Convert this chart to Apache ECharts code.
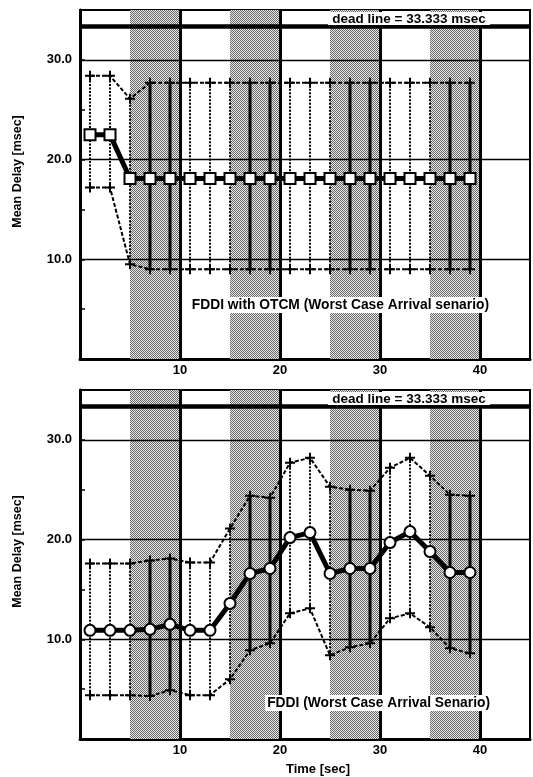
<!DOCTYPE html>
<html>
<head>
<meta charset="utf-8">
<script src="https://cdn.jsdelivr.net/npm/echarts@6/dist/echarts.min.js"></script>
<style>
html,body{margin:0;padding:0;background:#fff;}
#chart{width:533px;height:777px;}
</style>
</head>
<body>
<div id="chart"></div>
<script>
// ---- data ----
const times = [1,3,5,7,9,11,13,15,17,19,21,23,25,27,29,31,33,35,37,39];
const otcmMean  = [22.5,22.5,18.1,18.1,18.1,18.1,18.1,18.1,18.1,18.1,18.1,18.1,18.1,18.1,18.1,18.1,18.1,18.1,18.1,18.1];
const otcmUpper = [28.4,28.4,26.1,27.7,27.7,27.7,27.7,27.7,27.7,27.7,27.7,27.7,27.7,27.7,27.7,27.7,27.7,27.7,27.7,27.7];
const otcmLower = [17.2,17.2,9.5,9.0,9.0,9.0,9.0,9.0,9.0,9.0,9.0,9.0,9.0,9.0,9.0,9.0,9.0,9.0,9.0,9.0];
const fddiMean  = [10.9,10.9,10.9,11.0,11.5,10.9,10.9,13.6,16.6,17.1,20.2,20.7,16.6,17.1,17.1,19.7,20.8,18.8,16.7,16.7];
const fddiUpper = [17.6,17.6,17.6,17.9,18.1,17.7,17.7,21.1,24.4,24.2,27.7,28.2,25.3,25.0,24.9,27.2,28.2,26.4,24.5,24.4];
const fddiLower = [4.4,4.4,4.4,4.3,4.9,4.4,4.4,6.0,8.9,9.6,12.6,13.1,8.4,9.2,9.6,12.1,12.6,11.2,9.1,8.6];
const bands = [[5,10],[15,20],[25,30],[35,40]];
const deadline = 33.333;
const yGridValues = [10,20,30];
const xGridValues = [10,20,30,40];
const yTickLabels = {10:'10.0',20:'20.0',30:'30.0'};
const xTickLabels = {10:'10',20:'20',30:'30',40:'40'};

// ---- halftone pattern ----
const pc = document.createElement('canvas');
pc.width = 2; pc.height = 2;
const pctx = pc.getContext('2d');
pctx.fillStyle = '#e6e6e6'; pctx.fillRect(0,0,2,2);
pctx.fillStyle = '#6a6a6a'; pctx.fillRect(0,0,1,1); pctx.fillRect(1,1,1,1);
const halftone = {image: pc, repeat: 'repeat'};

const FONT = '"Liberation Sans", Arial, sans-serif';
const plus = 'path://M4,0h2v4h4v2h-4v4h-2v-4h-4v-2h4z';

const chart = echarts.init(document.getElementById('chart'), null, {renderer:'canvas'});

function zip(a){ return times.map((t,i)=>[t,a[i]]); }
function inBand(x){ return bands.some(b => x > b[0] && x < b[1]); }

function panelSeries(gi, mean, upper, lower, sym){
  return [
    { type:'line', xAxisIndex:gi, yAxisIndex:gi, data:[], z:1, silent:true,
      markArea:{ silent:true, itemStyle:{color:halftone},
        data: bands.map(b => [{xAxis:b[0]},{xAxis:b[1]}]) } },
    { type:'line', xAxisIndex:gi, yAxisIndex:gi, data:[], z:2, silent:true,
      markLine:{ silent:true, symbol:'none', label:{show:false}, animation:false,
        data: yGridValues.map(v => ({yAxis:v, lineStyle:{color:'#000',width:1.3,type:'solid'}}))
          .concat([{yAxis:deadline, lineStyle:{color:'#000',width:4.5,type:'solid'}}])
          .concat(xGridValues.map(v => ({xAxis:v, lineStyle:{color:'#000',width:3,type:'solid'}}))) } },
    { type:'custom', xAxisIndex:gi, yAxisIndex:gi, z:3, silent:true,
      data: times.map((t,i)=>[t, lower[i], upper[i]]),
      encode:{x:0, y:[1,2]},
      renderItem:function(params, api){
        const x = api.value(0);
        const p1 = api.coord([x, api.value(1)]);
        const p2 = api.coord([x, api.value(2)]);
        const ib = inBand(x);
        return {type:'line', shape:{x1:p1[0],y1:p1[1],x2:p2[0],y2:p2[1]},
          style:{stroke:'#000', lineWidth: ib?3:2, lineDash: ib?null:[2,1.5]}};
      } },
    { type:'line', xAxisIndex:gi, yAxisIndex:gi, z:4, data:zip(upper), symbol:plus, symbolSize:10,
      itemStyle:{color:'#000'}, lineStyle:{color:'#000', width:2, type:[4,2]}, animation:false },
    { type:'line', xAxisIndex:gi, yAxisIndex:gi, z:4, data:zip(lower), symbol:plus, symbolSize:10,
      itemStyle:{color:'#000'}, lineStyle:{color:'#000', width:2, type:[4,2]}, animation:false },
    { type:'line', xAxisIndex:gi, yAxisIndex:gi, z:5, data:zip(mean), symbol:sym, symbolSize:11, showSymbol:true,
      itemStyle:{color:'#fff', borderColor:'#000', borderWidth:2},
      lineStyle:{color:'#000', width:5}, animation:false }
  ];
}

function xAx(gi, withName){
  const a = { gridIndex:gi, type:'value', min:0, max:45, interval:10,
    axisLine:{show:true, onZero:false, lineStyle:{color:'#000', width:3}},
    axisTick:{show:false}, splitLine:{show:false},
    axisLabel:{formatter: v => xTickLabels[v] || '', color:'#000', fontWeight:'bold', fontSize:13, fontFamily:FONT, margin:5} };
  if (withName){
    a.name = 'Time [sec]'; a.nameLocation = 'middle'; a.nameGap = 24;
    a.nameTextStyle = {color:'#000', fontWeight:'bold', fontSize:13, fontFamily:FONT, padding:[0,0,0,26]};
  }
  return a;
}
function yAx(gi){
  return { gridIndex:gi, type:'value', min:0, max:35, interval:5,
    name:'Mean Delay [msec]', nameLocation:'middle', nameGap:56,
    nameTextStyle:{color:'#000', fontWeight:'bold', fontSize:12.5, fontFamily:FONT, padding:[0,0,0,26]},
    axisLine:{show:true, onZero:false, lineStyle:{color:'#000', width:3}},
    axisTick:{show:true, inside:true, length:5, lineStyle:{color:'#000', width:1.5}},
    splitLine:{show:false},
    axisLabel:{formatter: v => yTickLabels[v] || '', color:'#000', fontWeight:'bold', fontSize:13, fontFamily:FONT, margin:8} };
}

function label(text, x, y, align){
  return {type:'text', x:x, y:y, z:100,
    style:{text:text, font:'bold 13.8px ' + FONT, fill:'#000', textAlign:align, textVerticalAlign:'middle',
      backgroundColor:'#fff', padding:[1,2]}};
}

chart.setOption({
  animation:false,
  backgroundColor:'#fff',
  grid:[
    {left:80, right:2, top:10, height:349, show:true, borderColor:'#000', borderWidth:2, backgroundColor:'transparent'},
    {left:80, right:2, top:390, height:349, show:true, borderColor:'#000', borderWidth:2, backgroundColor:'transparent'}
  ],
  xAxis:[xAx(0,false), xAx(1,true)],
  yAxis:[yAx(0), yAx(1)],
  series: panelSeries(0, otcmMean, otcmUpper, otcmLower, 'rect')
    .concat(panelSeries(1, fddiMean, fddiUpper, fddiLower, 'circle')),
  graphic:[
    {type:'rect', shape:{x:328, y:12, width:162, height:13}, style:{fill:'#fff'}, z:99},
    {type:'text', x:409, y:19, z:100, style:{text:'dead line = 33.333 msec', font:'bold 13.5px ' + FONT, fill:'#000', textAlign:'center', textVerticalAlign:'middle'}},
    {type:'rect', shape:{x:328, y:392, width:162, height:13}, style:{fill:'#fff'}, z:99},
    {type:'text', x:409, y:399, z:100, style:{text:'dead line = 33.333 msec', font:'bold 13.5px ' + FONT, fill:'#000', textAlign:'center', textVerticalAlign:'middle'}},
    label('FDDI with OTCM (Worst Case Arrival senario)', 491, 305, 'right'),
    label('FDDI (Worst Case Arrival Senario)', 492, 703, 'right')
  ]
});
</script>
</body>
</html>
